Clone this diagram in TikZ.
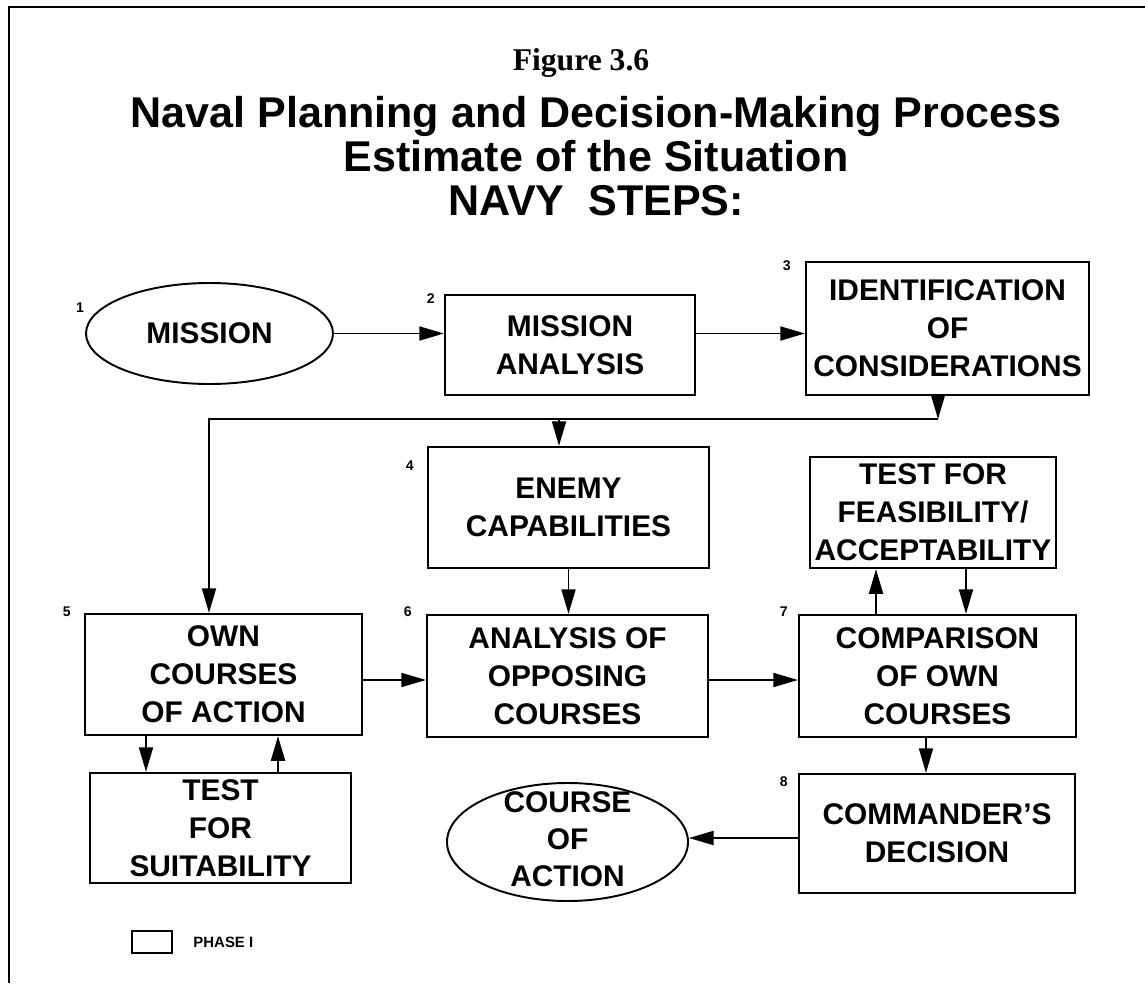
\documentclass[tikz,border=0pt]{standalone}
\usepackage{fontspec}
\setmainfont{Liberation Sans}
\newfontfamily\figfont{Liberation Serif}
\usepackage{tikz}
\usetikzlibrary{arrows.meta,shapes,positioning}
\tikzstyle{stepbox} = [rectangle, draw, line width=1.3pt, inner sep=1pt, align=center, font=\fontsize{17}{21.6}\selectfont\bfseries]
\tikzstyle{endpoint} = [ellipse, draw, line width=1.1pt, inner sep=1pt, align=center, font=\fontsize{17}{21}\selectfont\bfseries]
\tikzstyle{arrow} = [line width=1pt,-{Triangle[length=14pt,width=8pt]}]
\tikzstyle{stepno} = [inner sep=0pt, font=\fontsize{8}{9}\selectfont\bfseries]

\begin{document}
\begin{tikzpicture}[node distance=2cm]
\useasboundingbox (0,0) rectangle (22.9,-19.66);
% Frame
\draw[line width=1pt] (0.18,-19.66) -- (0.18,-0.14) -- (22.9,-0.14);

% Headings
\node (figno) [font=\figfont\fontsize{18}{20}\selectfont\bfseries] at (11.62,-1.26) {Figure 3.6};
\node (title) [font=\fontsize{24.5}{25}\selectfont\bfseries, align=center] at (11.92,-3.12) {Naval Planning and Decision-Making Process\\Estimate of the Situation\\NAVY\ \ STEPS:};

% Top row
\node (mission) [endpoint, minimum width=4.94cm, minimum height=2.02cm] at (4.19,-6.67) {MISSION};
\node (manalysis) [stepbox, minimum width=5cm, minimum height=2cm, right of=mission, xshift=5.21cm, yshift=-0.23cm] {MISSION\\ANALYSIS};
\node (ident) [stepbox, minimum width=5.66cm, minimum height=2.66cm, right of=manalysis, xshift=5.55cm, yshift=0.33cm] {IDENTIFICATION\\OF\\CONSIDERATIONS};

% Middle row
\node (enemy) [stepbox, minimum width=5.62cm, minimum height=2.42cm, below of=manalysis, xshift=-0.03cm, yshift=-1.25cm] {ENEMY\\CAPABILITIES};
\node (feasibility) [stepbox, minimum width=4.92cm, minimum height=2.22cm, below of=ident, xshift=-0.29cm, yshift=-1.68cm] {TEST FOR\\FEASIBILITY/\\ACCEPTABILITY};
\node (opposing) [stepbox, minimum width=5.62cm, minimum height=2.44cm, below of=enemy, xshift=-0.02cm, yshift=-1.37cm] {ANALYSIS OF\\OPPOSING\\COURSES};
\node (owncoa) [stepbox, minimum width=5.54cm, minimum height=2.42cm, left of=opposing, xshift=-4.88cm, yshift=0.03cm] {OWN\\COURSES\\OF ACTION};
\node (comparison) [stepbox, minimum width=5.54cm, minimum height=2.44cm, right of=opposing, xshift=5.4cm] {COMPARISON\\OF OWN\\COURSES};

% Bottom row
\node (suitability) [stepbox, minimum width=5.22cm, minimum height=2.2cm, below of=owncoa, xshift=-0.06cm, yshift=-1.07cm] {TEST\\FOR\\SUITABILITY};
\node (decision) [stepbox, minimum width=5.52cm, minimum height=2.38cm, below of=comparison, xshift=-0.01cm, yshift=-1.15cm] {COMMANDER’S\\DECISION};
\node (coa) [endpoint, minimum width=4.82cm, minimum height=2.36cm, below of=opposing, yshift=-1.32cm] {};
\node (coatext) [font=\fontsize{17}{21}\selectfont\bfseries, align=center, inner sep=0pt] at ([yshift=0.05cm]coa.center) {COURSE\\OF\\ACTION};

% Step numbers
\node (n1) [stepno] at ([shift={(-0.1,0.51)}]mission.west) {1};
\node (n2) [stepno] at ([shift={(-0.26,-0.1)}]manalysis.north west) {2};
\node (n3) [stepno] at ([shift={(-0.36,-0.1)}]ident.north west) {3};
\node (n4) [stepno] at ([shift={(-0.34,-0.4)}]enemy.north west) {4};
\node (n5) [stepno] at ([shift={(-0.34,0.02)}]owncoa.north west) {5};
\node (n6) [stepno] at ([shift={(-0.36,0.04)}]opposing.north west) {6};
\node (n7) [stepno] at ([shift={(-0.28,0.04)}]comparison.north west) {7};
\node (n8) [stepno] at ([shift={(-0.28,-0.18)}]decision.north west) {8};

% Legend
\node (phasebox) [rectangle, draw, line width=1.3pt, minimum width=0.8cm, minimum height=0.44cm] at (3.04,-18.84) {};
\node (phaselabel) [right=0.4cm of phasebox, inner sep=0pt, font=\fontsize{8.5}{10}\selectfont\bfseries] {PHASE I};

% Arrows
\draw[arrow] (mission.east) -- (mission.east -| manalysis.west);
\draw[arrow] (manalysis.east |- mission) -- (ident.west |- mission);
\draw[arrow] ([xshift=-0.19cm]ident.south) -- ++(0,-0.46) coordinate (bend);
\draw[arrow] (bend) -| ([xshift=-0.29cm]owncoa.north);
\draw[arrow] ([xshift=-0.19cm]enemy.north |- bend) -- ([xshift=-0.19cm]enemy.north);
\draw[arrow] (enemy.south) -- (enemy.south |- opposing.north);
\draw[arrow] ([yshift=-0.11cm]owncoa.east) -- ([yshift=-0.11cm]owncoa.east -| opposing.west);
\draw[arrow] ([yshift=-0.08cm]opposing.east) -- ([yshift=-0.08cm]opposing.east -| comparison.west);
\draw[arrow] ([xshift=-1.23cm]comparison.north) -- ([xshift=-1.23cm]comparison.north |- feasibility.south);
\draw[arrow] ([xshift=0.57cm]comparison.north |- feasibility.south) -- ([xshift=0.57cm]comparison.north);
\draw[arrow] ([xshift=-0.23cm]comparison.south) -- ([xshift=-0.23cm]comparison.south |- decision.north);
\draw[arrow] ([xshift=-1.55cm]owncoa.south) -- ([xshift=-1.55cm]owncoa.south |- suitability.north);
\draw[arrow] ([xshift=1.09cm]owncoa.south |- suitability.north) -- ([xshift=1.09cm]owncoa.south);
\draw[arrow] ([yshift=-0.09cm]decision.west) -- ([yshift=-0.09cm]decision.west -| coa.east);
\end{tikzpicture}
\end{document}
